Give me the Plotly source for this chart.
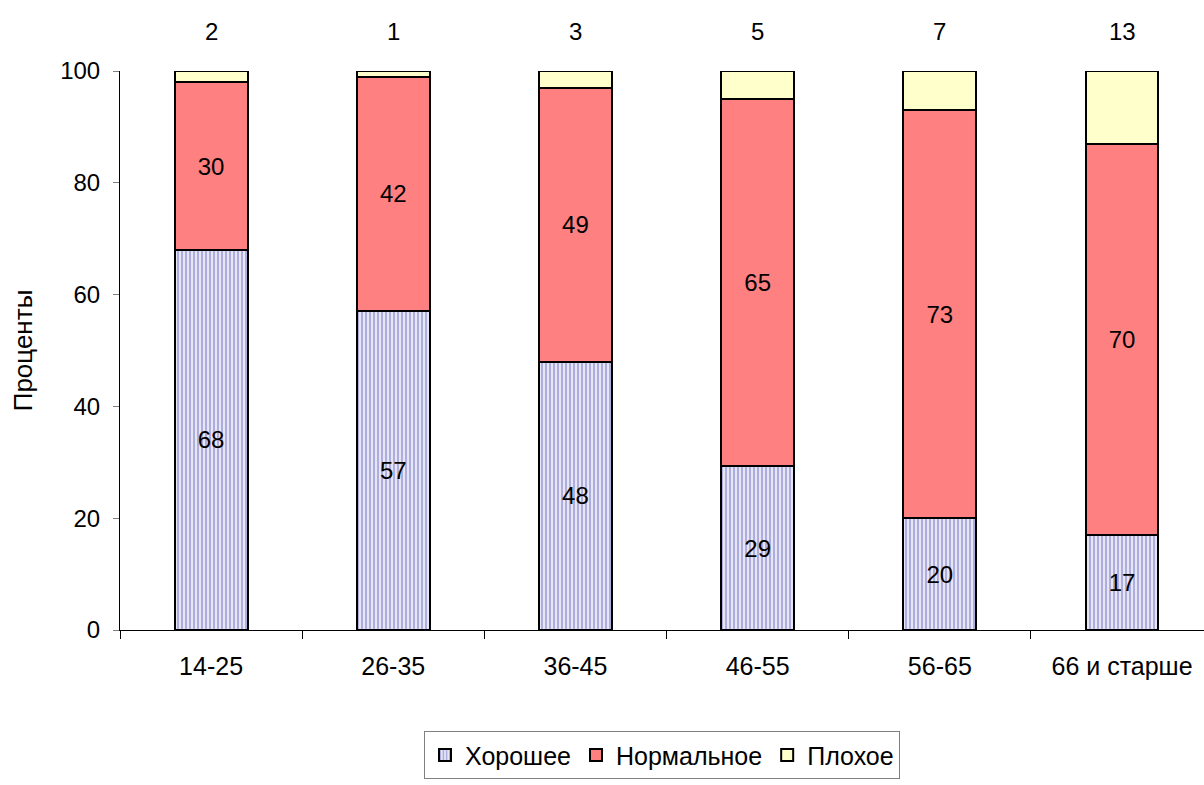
import plotly.graph_objects as go

# Age groups and self-rated health shares (percent)
age_groups = ["14-25", "26-35", "36-45", "46-55", "56-65", "66 и старше"]
good = [68, 57, 48, 29, 20, 17]
normal = [30, 42, 49, 65, 73, 70]
bad = [2, 1, 3, 5, 7, 13]

FONT = "Liberation Sans, Arial, sans-serif"
FS = 24
BAR_LINE = dict(color="black", width=2)

fig = go.Figure()

fig.add_trace(go.Bar(
    name="Хорошее", x=age_groups, y=good,
    text=[str(v) for v in good], textposition="inside",
    insidetextanchor="middle", textangle=0,
    textfont=dict(family=FONT, size=FS, color="black"),
    marker=dict(color="#d4d4f0", line=BAR_LINE,
                pattern=dict(shape="|", fgcolor="#a8a8dc", bgcolor="#e6e6f7",
                             size=4, solidity=0.45, fillmode="replace")),
    width=0.4,
))
fig.add_trace(go.Bar(
    name="Нормальное", x=age_groups, y=normal,
    text=[str(v) for v in normal], textposition="inside",
    insidetextanchor="middle", textangle=0,
    textfont=dict(family=FONT, size=FS, color="black"),
    marker=dict(color="#ff8080", line=BAR_LINE),
    width=0.4,
))
fig.add_trace(go.Bar(
    name="Плохое", x=age_groups, y=bad,
    marker=dict(color="#ffffcc", line=BAR_LINE),
    width=0.4,
))

# Values of the "Плохое" share written above each column
for cat, v in zip(age_groups, bad):
    fig.add_annotation(x=cat, y=100, yref="y", text=str(v), showarrow=False,
                       yanchor="bottom", yshift=24,
                       font=dict(family=FONT, size=FS, color="black"))

fig.update_layout(
    barmode="stack",
    barnorm="percent",
    width=1204, height=785,
    margin=dict(l=120, r=0, t=71, b=155),
    plot_bgcolor="white", paper_bgcolor="white",
    font=dict(family=FONT, size=FS, color="black"),
    showlegend=True,
    legend=dict(orientation="h", x=0.5, xanchor="center", y=-0.224, yanchor="middle",
                bordercolor="#808080", borderwidth=1,
                font=dict(family=FONT, size=25, color="black"),
                itemwidth=30, traceorder="normal"),
    xaxis=dict(range=[-0.5, 5.45], showline=True, linecolor="black", linewidth=1,
               ticks="outside", tickson="boundaries", ticklen=8, tickcolor="black",
               ticklabelstandoff=14,
               showgrid=False, tickfont=dict(family=FONT, size=25, color="black")),
    yaxis=dict(range=[0, 100], tickvals=[0, 20, 40, 60, 80, 100],
               showline=True, linecolor="black", linewidth=1,
               ticks="outside", ticklen=6, tickcolor="#808080",
               ticklabelstandoff=8,
               showgrid=False, zeroline=False,
               tickfont=dict(family=FONT, size=FS, color="black"),
               title=dict(text="Проценты", standoff=20,
                          font=dict(family=FONT, size=26, color="black"))),
)

fig.write_html("out.html")
